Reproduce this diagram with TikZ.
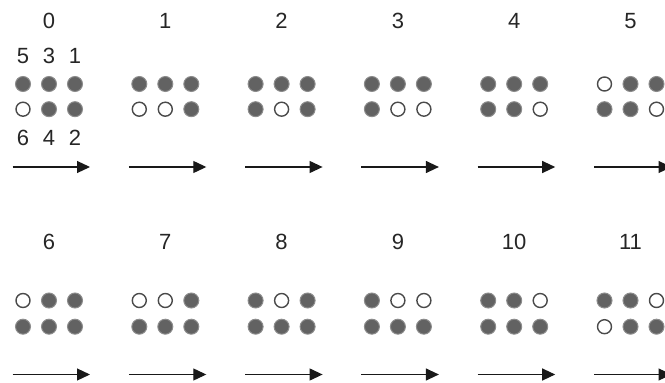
\documentclass[tikz,border=0pt]{standalone}
\usepackage{fontspec}
\setmainfont{Liberation Sans}
\usetikzlibrary{arrows.meta}
\definecolor{dotfill}{HTML}{626262}
\definecolor{dotedge}{HTML}{8C8C8C}
\definecolor{ringcol}{HTML}{4A4A4A}
\begin{document}
\begin{tikzpicture}[x=1pt,y=-1pt,
  s1/.style={circle, draw=dotedge, fill=dotfill, line width=1pt, minimum size=15pt, inner sep=0pt},
  s0/.style={circle, draw=ringcol, fill=white, line width=1.4pt, minimum size=14pt, inner sep=0pt},
  lbl/.style={font=\fontsize{22}{22}\selectfont, text=black!85, inner sep=0pt},
  flow/.style={-{Triangle[length=13pt,width=12pt]}, line width=1.2pt, draw=black!90}]
\useasboundingbox (0,0) rectangle (665,383);
\clip (0,0) rectangle (665,383);
\foreach \i/\p in {0/{1,1,1,0,1,1},1/{1,1,1,0,0,1},2/{1,1,1,1,0,1},3/{1,1,1,1,0,0},4/{1,1,1,1,1,0},5/{0,1,1,1,1,0},6/{0,1,1,1,1,1},7/{0,0,1,1,1,1},8/{1,0,1,1,1,1},9/{1,0,0,1,1,1},10/{1,1,0,1,1,1},11/{1,1,0,0,1,1}}{
  \pgfmathsetmacro\cx{49+116.3*mod(\i,6)}
  \pgfmathtruncatemacro\rw{\i/6}
  \pgfmathsetmacro\ly{20.7+221*\rw}
  \pgfmathsetmacro\ty{84+216.5*\rw}
  \pgfmathsetmacro\by{109.2+217.5*\rw}
  \pgfmathsetmacro\ay{167+207.5*\rw}
  \node[lbl] (lab\i) at (\cx,\ly) {\i};
  \foreach \v [count=\k from 0] in \p {
    \pgfmathtruncatemacro\col{mod(\k,3)}
    \pgfmathsetmacro\dx{\cx+26*(\col-1)}
    \ifnum\k<3
      \node[s\v] (d\i-\k) at (\dx,\ty) {};
    \else
      \node[s\v] (d\i-\k) at (\dx,\by) {};
    \fi
  }
  \coordinate (as\i) at (\cx-36.5,\ay);
  \coordinate (ae\i) at (\cx+41,\ay);
  \draw[flow] (as\i) -- (ae\i);
}
\node[lbl] (n5) at (23,55.7) {5};
\node[lbl] (n3) at (49,55.7) {3};
\node[lbl] (n1) at (75,55.7) {1};
\node[lbl] (n6) at (23,138.3) {6};
\node[lbl] (n4) at (49,138.3) {4};
\node[lbl] (n2) at (75,138.3) {2};
\end{tikzpicture}
\end{document}
